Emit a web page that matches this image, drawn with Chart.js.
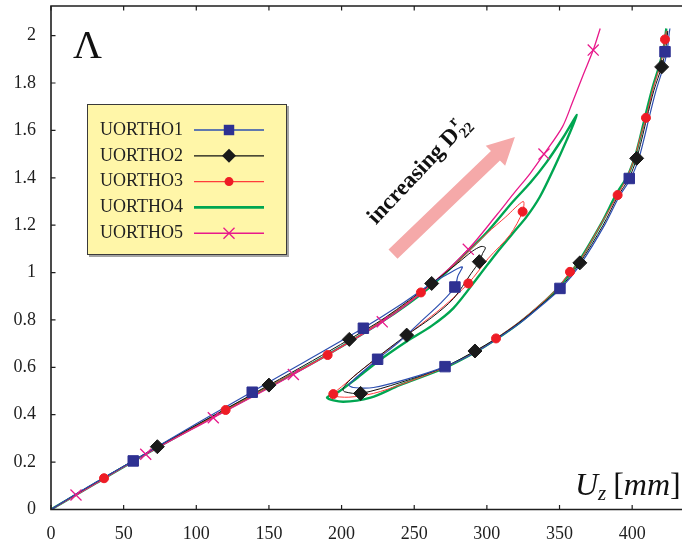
<!DOCTYPE html>
<html lang="en">
<head>
<meta charset="UTF-8">
<title>Lambda vs Uz</title>
<script src="https://cdn.jsdelivr.net/npm/chart.js@4.4.4/dist/chart.umd.js"></script>
<style>
  html, body { margin: 0; padding: 0; background: #fff; }
  #wrap { width: 682px; height: 539px; }
</style>
</head>
<body>
<div id="wrap"><canvas id="chart" width="682" height="539"></canvas></div>
<script>
  // tick values
  const xTicks = [0, 50, 100, 150, 200, 250, 300, 350, 400];
  const yTicks = [0, 0.2, 0.4, 0.6, 0.8, 1, 1.2, 1.4, 1.6, 1.8, 2];

  // curves, [Uz (mm), Lambda]
  const blueLine = [[0, 0], [20, 0.076], [56.6, 0.206], [100, 0.362], [138.5, 0.497], [175, 0.625], [215, 0.766], [240, 0.862], [262, 0.955], [272, 0.99], [283, 1.024], [280, 0.985], [278, 0.939], [268, 0.87], [254, 0.79], [240, 0.71], [224.8, 0.634], [214, 0.578], [208, 0.545], [205, 0.525], [208, 0.515], [222, 0.515], [245, 0.55], [271.2, 0.603], [293, 0.666], [307, 0.72], [323, 0.788], [337, 0.858], [351, 0.933], [365, 1.04], [381, 1.2], [391, 1.32], [399, 1.397], [404.5, 1.48], [408, 1.56], [411.5, 1.65], [416.5, 1.77], [421.5, 1.868], [424, 1.932], [425.5, 2.01], [426, 2.03]];
  const blackLine = [[0, 0], [20, 0.075], [73.2, 0.265], [110, 0.39], [150, 0.525], [180, 0.628], [205.3, 0.718], [230, 0.81], [262, 0.954], [280, 1.04], [290, 1.09], [296, 1.11], [299, 1.105], [297, 1.08], [294.8, 1.046], [289, 0.995], [277, 0.89], [262, 0.81], [244.8, 0.736], [230, 0.668], [216, 0.6], [206, 0.548], [201, 0.51], [202, 0.497], [213.1, 0.49], [240, 0.535], [271, 0.602], [291.8, 0.669], [306, 0.72], [322, 0.788], [336, 0.857], [350, 0.932], [364, 1.041], [380, 1.2], [390, 1.32], [398, 1.4], [403.1, 1.482], [406.5, 1.56], [410, 1.65], [415, 1.77], [420.3, 1.868], [423, 1.94], [424.5, 2.02]];
  const redLine = [[0, 0], [36.5, 0.132], [80, 0.287], [120.2, 0.42], [160, 0.553], [190.4, 0.652], [220, 0.765], [254.6, 0.916], [280, 1.045], [300, 1.165], [313, 1.235], [325, 1.3], [324.6, 1.257], [316, 1.16], [301, 1.06], [287.2, 0.954], [270, 0.856], [250, 0.76], [230, 0.665], [212, 0.58], [200, 0.518], [194.3, 0.49], [193, 0.48], [205, 0.474], [222, 0.49], [242, 0.53], [271, 0.6], [292, 0.665], [306.3, 0.722], [322, 0.79], [336, 0.862], [349, 0.937], [357.2, 1.003], [364, 1.05], [379, 1.21], [390, 1.327], [397, 1.41], [402, 1.49], [405.5, 1.57], [409.5, 1.653], [414.5, 1.78], [419.5, 1.88], [422.6, 1.984], [423.5, 2.02]];
  const greenLine = [[0, 0], [30, 0.108], [70, 0.25], [110, 0.386], [150, 0.518], [190, 0.652], [228, 0.793], [260, 0.935], [287, 1.09], [300, 1.17], [318, 1.3], [330, 1.38], [341, 1.465], [352.5, 1.57], [362, 1.665], [355, 1.56], [345.6, 1.433], [336.5, 1.32], [327.4, 1.236], [318, 1.167], [306.7, 1.083], [295, 0.99], [277, 0.85], [262, 0.775], [245, 0.71], [225, 0.625], [210, 0.552], [198, 0.497], [190, 0.472], [201, 0.455], [220, 0.472], [240, 0.525], [271, 0.598], [292, 0.664], [306, 0.717], [322, 0.786], [336, 0.858], [349, 0.935], [363, 1.045], [379, 1.21], [389, 1.33], [397, 1.41], [402, 1.49], [405.5, 1.57], [409, 1.66], [414, 1.78], [419, 1.88], [422, 1.96], [423.5, 2.03]];
  const magentaLine = [[0, 0], [17.2, 0.061], [65.2, 0.233], [111.7, 0.387], [166.8, 0.57], [228, 0.792], [260, 0.94], [287.2, 1.098], [307, 1.245], [318, 1.33], [330, 1.42], [339.3, 1.5], [352, 1.615], [359, 1.72], [366, 1.83], [373.2, 1.939], [378, 2.03]];

  // symbols on the curves
  const blueMarks = [[56.6, 0.205], [138.5, 0.495], [215, 0.765], [278, 0.939], [224.8, 0.634], [271.2, 0.603], [350.3, 0.933], [398, 1.397], [422.6, 1.932]];
  const blackMarks = [[73.2, 0.265], [150, 0.525], [205.3, 0.718], [262, 0.954], [294.8, 1.046], [244.8, 0.736], [213.1, 0.49], [291.8, 0.669], [364, 1.041], [403.1, 1.482], [420.3, 1.868]];
  const redMarks = [[36.5, 0.132], [120.2, 0.42], [190.4, 0.652], [254.6, 0.916], [324.6, 1.257], [287.2, 0.954], [194.3, 0.487], [306.3, 0.722], [357.2, 1.003], [390, 1.327], [409.5, 1.653], [422.6, 1.984]];
  const magentaMarks = [[17.2, 0.061], [65.2, 0.233], [111.7, 0.387], [166.8, 0.57], [228, 0.792], [287.2, 1.098], [339.3, 1.5], [373.2, 1.939]];

  const series = [
    { label: 'UORTHO1', line: blueLine, marks: blueMarks, color: '#2d4fb0', mark: '#2e3192', style: 'rect', r: 7.4, width: 1.2, order: 2 },
    { label: 'UORTHO2', line: blackLine, marks: blackMarks, color: '#111111', mark: '#1a1a1a', style: 'rectRot', r: 7, width: 1, order: 2 },
    { label: 'UORTHO3', line: redLine, marks: redMarks, color: '#ff3b3b', mark: '#ee1c25', style: 'circle', r: 4.5, width: 1, order: 2 },
    { label: 'UORTHO4', line: greenLine, marks: null, color: '#00a651', mark: '#00a651', style: null, r: 0, width: 2.4, order: 3 },
    { label: 'UORTHO5', line: magentaLine, marks: magentaMarks, color: '#e8198b', mark: '#e8198b', style: 'crossRot', r: 7.8, width: 1.3, order: 2 }
  ];

  const toXY = pts => pts.map(([x, y]) => ({ x, y }));

  const datasets = [];
  series.forEach(s => {
    datasets.push({
      label: s.label, data: toXY(s.line), showLine: true, pointRadius: 0,
      borderColor: s.color, borderWidth: s.width, tension: 0.3, order: s.order
    });
    if (s.marks) {
      datasets.push({
        label: s.label + ' marks', data: toXY(s.marks), showLine: false,
        pointStyle: s.style, pointRadius: s.r, backgroundColor: s.mark, borderColor: s.mark,
        borderWidth: s.style === 'crossRot' ? 1.3 : 1, order: 0
      });
    }
  });

  const SERIF = "'Liberation Serif', 'DejaVu Serif', serif";
  const INK = '#1e1e1e';

  function drawMark(ctx, style, x, y, r, color) {
    ctx.save();
    ctx.fillStyle = color;
    ctx.strokeStyle = color;
    ctx.beginPath();
    if (style === 'rect') {
      const h = r * Math.SQRT1_2;
      ctx.rect(x - h, y - h, 2 * h, 2 * h);
      ctx.fill();
    } else if (style === 'rectRot') {
      ctx.moveTo(x - r, y); ctx.lineTo(x, y - r); ctx.lineTo(x + r, y); ctx.lineTo(x, y + r);
      ctx.closePath();
      ctx.fill();
    } else if (style === 'circle') {
      ctx.arc(x, y, r, 0, Math.PI * 2);
      ctx.fill();
    } else if (style === 'crossRot') {
      const h = r * Math.SQRT1_2;
      ctx.lineWidth = 1.3;
      ctx.moveTo(x - h, y - h); ctx.lineTo(x + h, y + h);
      ctx.moveTo(x + h, y - h); ctx.lineTo(x - h, y + h);
      ctx.stroke();
    }
    ctx.restore();
  }

  const decorations = {
    id: 'decorations',
    beforeDatasetsDraw(chart) {
      // pink arrow, placed in data units
      const { ctx, scales: { x, y } } = chart;
      const x0 = x.getPixelForValue(235.4), y0 = y.getPixelForValue(1.078);
      const x1 = x.getPixelForValue(319.3), y1 = y.getPixelForValue(1.572);
      const ang = Math.atan2(y1 - y0, x1 - x0);
      const len = Math.hypot(x1 - x0, y1 - y0);
      ctx.save();
      ctx.translate(x0, y0);
      ctx.rotate(ang);
      ctx.fillStyle = '#f5a9a9';
      ctx.beginPath();
      ctx.moveTo(0, -6.5);
      ctx.lineTo(len - 27, -6.5);
      ctx.lineTo(len - 27, -14);
      ctx.lineTo(len, 0);
      ctx.lineTo(len - 27, 14);
      ctx.lineTo(len - 27, 6.5);
      ctx.lineTo(0, 6.5);
      ctx.closePath();
      ctx.fill();
      ctx.restore();
    },
    afterDatasetsDraw(chart) {
      const { ctx, chartArea: a, scales: { x, y } } = chart;
      ctx.save();
      // frame (no right edge)
      ctx.strokeStyle = INK;
      ctx.lineWidth = 1.6;
      ctx.beginPath();
      ctx.moveTo(a.right, a.top); ctx.lineTo(a.left, a.top);
      ctx.lineTo(a.left, a.bottom); ctx.lineTo(a.right, a.bottom);
      ctx.stroke();
      // inward tick marks
      ctx.lineWidth = 1.2;
      ctx.beginPath();
      xTicks.forEach(v => {
        const px = x.getPixelForValue(v);
        ctx.moveTo(px, a.top); ctx.lineTo(px, a.top + 4.5);
        ctx.moveTo(px, a.bottom); ctx.lineTo(px, a.bottom - 4.5);
      });
      yTicks.forEach(v => {
        const py = y.getPixelForValue(v);
        ctx.moveTo(a.left, py); ctx.lineTo(a.left + 4.5, py);
      });
      ctx.stroke();

      // Lambda
      ctx.fillStyle = '#111';
      ctx.textBaseline = 'alphabetic';
      ctx.textAlign = 'left';
      ctx.font = '40px ' + SERIF;
      ctx.fillText('Λ', x.getPixelForValue(15.1), y.getPixelForValue(1.905));

      // axis title U_z [mm]
      let tx = x.getPixelForValue(360.6);
      const ty = y.getPixelForValue(0.06);
      const parts = [
        ['U', 'italic 32px ', 0], ['z', 'italic 21px ', 5], ['  ', '14px ', 0],
        ['[', '32px ', 0], ['mm', 'italic 32px ', 0], [']', '32px ', 0]
      ];
      parts.forEach(([t, f, dy]) => {
        ctx.font = f + SERIF;
        ctx.fillText(t, tx, ty + dy);
        tx += ctx.measureText(t).width;
      });

      // rotated note
      ctx.save();
      ctx.translate(x.getPixelForValue(223.7), y.getPixelForValue(1.2));
      ctx.rotate(-46.5 * Math.PI / 180);
      ctx.font = 'bold 23px ' + SERIF;
      ctx.fillText('increasing ', 0, 0);
      let rx = ctx.measureText('increasing ').width;
      ctx.fillText('D', rx, 0);
      rx += ctx.measureText('D').width + 1;
      ctx.font = 'bold 15px ' + SERIF;
      ctx.fillText('r', rx + 1, -11);
      ctx.fillText('22', rx, 5);
      ctx.restore();

      // legend box
      const bx = a.left + 36, by = a.top + 98, bw = 200, bh = 151;
      ctx.fillStyle = 'rgba(90,90,90,0.55)';
      ctx.fillRect(bx + 2, by + 2, bw, bh);
      ctx.fillStyle = '#fff6a8';
      ctx.fillRect(bx, by, bw, bh);
      ctx.strokeStyle = '#3a3a3a';
      ctx.lineWidth = 1;
      ctx.strokeRect(bx + 0.5, by + 0.5, bw - 1, bh - 1);
      series.forEach((s, i) => {
        const ry = by + 26 + i * 25.8;
        ctx.fillStyle = '#222';
        ctx.font = '18px ' + SERIF;
        ctx.textBaseline = 'middle';
        ctx.fillText(s.label, bx + 13, ry);
        ctx.strokeStyle = s.color;
        ctx.lineWidth = s.width + 0.3;
        ctx.beginPath();
        ctx.moveTo(bx + 107, ry); ctx.lineTo(bx + 177, ry);
        ctx.stroke();
        if (s.style) drawMark(ctx, s.style, bx + 142, ry, s.r, s.mark);
      });
      ctx.restore();
    }
  };

  new Chart('chart', {
    type: 'scatter',
    data: { datasets },
    options: {
      responsive: false,
      animation: false,
      events: [],
      layout: { autoPadding: false, padding: { top: 6, left: 0, right: 0, bottom: 0 } },
      plugins: { legend: { display: false }, tooltip: { enabled: false } },
      scales: {
        x: {
          type: 'linear', min: 0, max: 434.3,
          grid: { display: false, drawTicks: false },
          border: { display: false },
          ticks: { padding: 14, color: INK, font: { family: SERIF, size: 18 }, maxRotation: 0 },
          afterBuildTicks: s => { s.ticks = xTicks.map(v => ({ value: v })); },
          afterFit: s => { s.height = 29.5; s.paddingLeft = 0; s.paddingRight = 0; }
        },
        y: {
          type: 'linear', min: 0, max: 2.125,
          grid: { display: false, drawTicks: false },
          border: { display: false },
          ticks: { padding: 15, color: INK, font: { family: SERIF, size: 18 }, callback: v => String(+v.toFixed(1)) },
          afterBuildTicks: s => { s.ticks = yTicks.map(v => ({ value: v })); },
          afterFit: s => { s.width = 51; s.paddingTop = 0; s.paddingBottom = 0; }
        }
      }
    },
    plugins: [decorations]
  });
</script>
</body>
</html>
